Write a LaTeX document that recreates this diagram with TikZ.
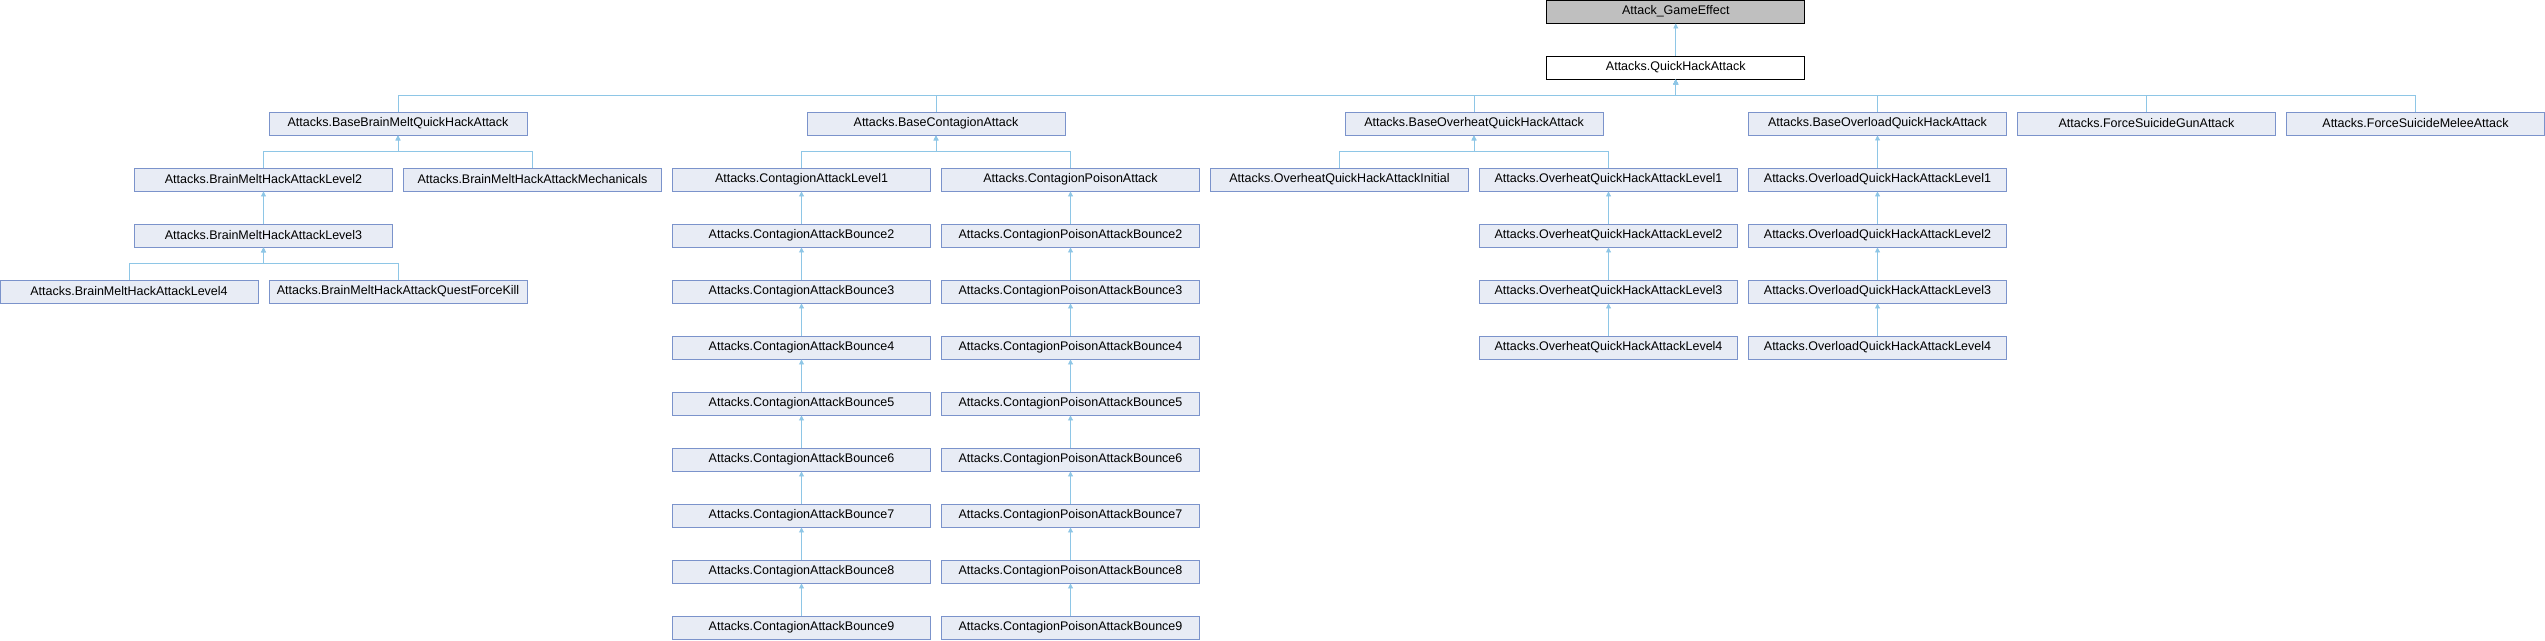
\documentclass[tikz,border=0pt]{standalone}
\usepackage{fontspec}
\setmainfont{Liberation Sans}
\usetikzlibrary{arrows.meta}
\definecolor{boxfill}{HTML}{E8ECF5}
\definecolor{boxline}{HTML}{7B93CB}
\definecolor{edgeblue}{HTML}{8EC6E6}
\tikzset{
  cls/.style = {draw = boxline, fill = boxfill, line width = 0.9pt, minimum width = 258pt,
                minimum height = 23pt, inner sep = 0pt, font = \fontsize{12.5}{14}\selectfont},
  rootcls/.style = {cls, draw = black, fill = black!25},
  basecls/.style = {cls, draw = black, fill = white},
  inh/.style = {draw = edgeblue, line width = 0.9pt, -{Triangle[width = 5pt, length = 5pt]}}
}
\begin{document}
\begin{tikzpicture}[x = 1pt, y = -1pt]
    \useasboundingbox (0, 0) rectangle (2545, 640);
    % top of the hierarchy
    \node[rootcls] (game) at (1675.75, 11.5) {Attack\_GameEffect};
    \node[basecls] (quick) at (1675.75, 67.5) {Attacks.QuickHackAttack};
    % classes: name/column/row/label
    \foreach \n/\m/\r/\t in {bbm/2/2/Attacks.BaseBrainMeltQuickHackAttack, bca/6/2/Attacks.BaseContagionAttack,
                             boh/10/2/Attacks.BaseOverheatQuickHackAttack, bol/13/2/Attacks.BaseOverloadQuickHackAttack,
                             fsg/15/2/Attacks.ForceSuicideGunAttack, fsm/17/2/Attacks.ForceSuicideMeleeAttack,
                             bm2/1/3/Attacks.BrainMeltHackAttackLevel2, bmmech/3/3/Attacks.BrainMeltHackAttackMechanicals,
                             cb1/5/3/Attacks.ContagionAttackLevel1, cpb1/7/3/Attacks.ContagionPoisonAttack,
                             ohini/9/3/Attacks.OverheatQuickHackAttackInitial, oh1/11/3/Attacks.OverheatQuickHackAttackLevel1,
                             ol1/13/3/Attacks.OverloadQuickHackAttackLevel1,
                             bm3/1/4/Attacks.BrainMeltHackAttackLevel3, oh2/11/4/Attacks.OverheatQuickHackAttackLevel2,
                             ol2/13/4/Attacks.OverloadQuickHackAttackLevel2,
                             bm4/0/5/Attacks.BrainMeltHackAttackLevel4, bmqfk/2/5/Attacks.BrainMeltHackAttackQuestForceKill,
                             oh3/11/5/Attacks.OverheatQuickHackAttackLevel3, ol3/13/5/Attacks.OverloadQuickHackAttackLevel3,
                             oh4/11/6/Attacks.OverheatQuickHackAttackLevel4, ol4/13/6/Attacks.OverloadQuickHackAttackLevel4}{
        \pgfmathsetmacro{\xpos}{129 + 134.5 * \m}
        \pgfmathsetmacro{\ypos}{56 * \r + 11.5}
        \node[cls] (\n) at (\xpos, \ypos) {\t};
    }
    % contagion bounce chains
    \foreach \k in {2, ..., 9}{
        \pgfmathsetmacro{\ypos}{56 * (\k + 2) + 11.5}
        \node[cls] (cb\k) at (801.5, \ypos) {Attacks.ContagionAttackBounce\k};
        \node[cls] (cpb\k) at (1070.5, \ypos) {Attacks.ContagionPoisonAttackBounce\k};
    }
    % inheritance
    \draw[inh] (quick.north) -- (game.south);
    \foreach \c/\p in {bbm/quick, bca/quick, boh/quick, bol/quick, fsg/quick, fsm/quick,
                       bm2/bbm, bmmech/bbm, cb1/bca, cpb1/bca, ohini/boh, oh1/boh, ol1/bol,
                       bm3/bm2, bm4/bm3, bmqfk/bm3, oh2/oh1, oh3/oh2, oh4/oh3, ol2/ol1, ol3/ol2, ol4/ol3}{
        \draw[inh] (\c.north) -- ++(0, -16) -| (\p.south);
    }
    \foreach \k [remember = \k as \j (initially 1)] in {2, ..., 9}{
        \draw[inh] (cb\k.north) -- (cb\j.south);
        \draw[inh] (cpb\k.north) -- (cpb\j.south);
    }
\end{tikzpicture}
\end{document}
